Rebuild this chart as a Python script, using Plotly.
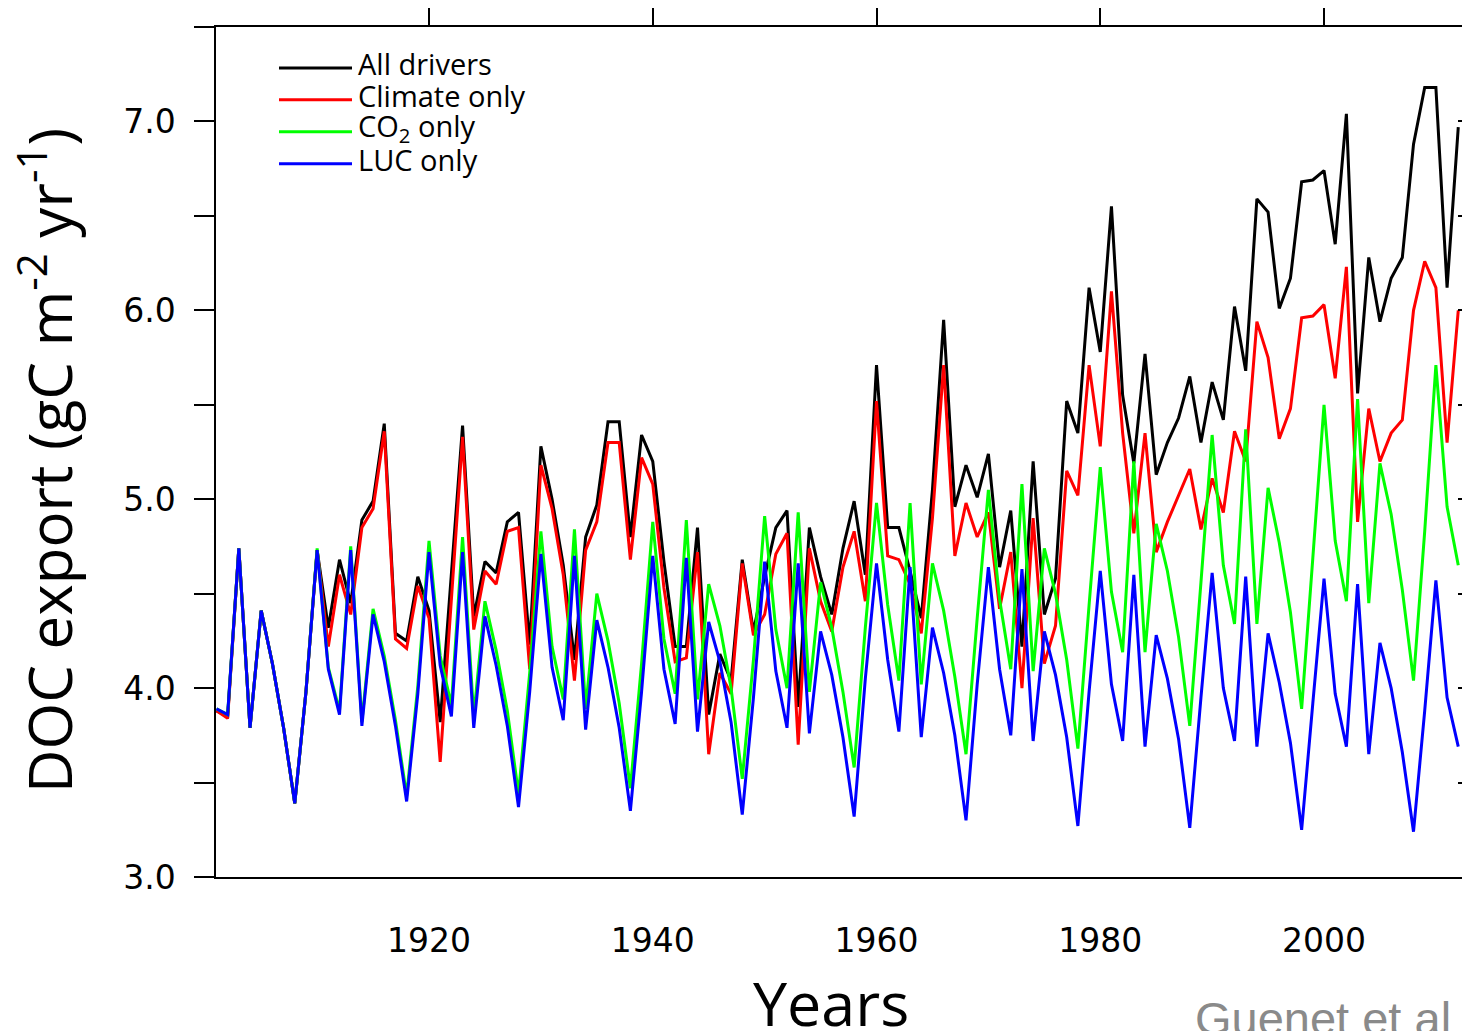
import plotly.graph_objects as go

years = list(range(1901, 2013))

luc_only = [
    3.89, 3.86, 4.74, 3.79, 4.41, 4.13, 3.79, 3.39, 3.98, 4.73,
    4.10, 3.86, 4.73, 3.80, 4.39, 4.14, 3.80, 3.40, 3.97, 4.72,
    4.12, 3.85, 4.72, 3.79, 4.38, 4.12, 3.80, 3.37, 3.98, 4.71,
    4.11, 3.83, 4.70, 3.78, 4.36, 4.11, 3.79, 3.35, 3.98, 4.70,
    4.10, 3.81, 4.69, 3.77, 4.35, 4.14, 3.82, 3.33, 3.95, 4.67,
    4.09, 3.79, 4.66, 3.76, 4.30, 4.07, 3.74, 3.32, 4.05, 4.66,
    4.15, 3.77, 4.64, 3.74, 4.32, 4.08, 3.75, 3.30, 4.02, 4.64,
    4.10, 3.75, 4.63, 3.72, 4.30, 4.07, 3.74, 3.27, 3.98, 4.62,
    4.02, 3.72, 4.60, 3.69, 4.28, 4.05, 3.73, 3.26, 3.95, 4.61,
    4.00, 3.72, 4.59, 3.69, 4.29, 4.03, 3.71, 3.25, 3.92, 4.58,
    3.97, 3.69, 4.55, 3.65, 4.24, 4.00, 3.66, 3.24, 3.88, 4.57,
    3.95, 3.69,
]

co2_only = [
    3.89, 3.86, 4.74, 3.79, 4.41, 4.13, 3.79, 3.39, 3.98, 4.74,
    4.11, 3.88, 4.75, 3.82, 4.42, 4.17, 3.83, 3.43, 4.01, 4.78,
    4.17, 3.91, 4.80, 3.85, 4.46, 4.20, 3.88, 3.44, 4.08, 4.83,
    4.22, 3.94, 4.84, 3.89, 4.50, 4.25, 3.92, 3.47, 4.13, 4.88,
    4.26, 3.97, 4.89, 3.94, 4.55, 4.33, 4.00, 3.52, 4.15, 4.91,
    4.31, 4.00, 4.93, 3.98, 4.56, 4.32, 3.98, 3.58, 4.32, 4.98,
    4.44, 4.04, 4.98, 4.02, 4.66, 4.41, 4.06, 3.65, 4.37, 5.05,
    4.47, 4.10, 5.08, 4.09, 4.74, 4.50, 4.15, 3.68, 4.44, 5.17,
    4.51, 4.19, 5.20, 4.19, 4.87, 4.62, 4.27, 3.80, 4.56, 5.34,
    4.65, 4.34, 5.37, 4.34, 5.06, 4.77, 4.40, 3.89, 4.69, 5.50,
    4.78, 4.46, 5.53, 4.45, 5.19, 4.92, 4.52, 4.04, 4.83, 5.71,
    4.96, 4.65,
]

climate_only = [
    3.88, 3.84, 4.74, 3.79, 4.41, 4.13, 3.79, 3.39, 3.98, 4.73,
    4.22, 4.60, 4.39, 4.85, 4.95, 5.36, 4.26, 4.21, 4.54, 4.37,
    3.61, 4.50, 5.33, 4.31, 4.62, 4.55, 4.83, 4.85, 4.10, 5.18,
    4.95, 4.60, 4.04, 4.73, 4.88, 5.30, 5.30, 4.68, 5.22, 5.08,
    4.53, 4.14, 4.16, 4.72, 3.65, 4.08, 3.97, 4.66, 4.28, 4.39,
    4.71, 4.82, 3.70, 4.74, 4.46, 4.30, 4.64, 4.83, 4.46, 5.52,
    4.70, 4.68, 4.55, 4.29, 4.90, 5.71, 4.70, 4.98, 4.80, 4.93,
    4.42, 4.72, 4.00, 4.90, 4.13, 4.33, 5.15, 5.02, 5.71, 5.28,
    6.10, 5.35, 4.82, 5.35, 4.72, 4.88, 5.02, 5.16, 4.84, 5.11,
    4.93, 5.36, 5.20, 5.94, 5.75, 5.32, 5.48, 5.96, 5.97, 6.03,
    5.64, 6.23, 4.88, 5.48, 5.20, 5.35, 5.42, 6.00, 6.26, 6.12,
    5.30, 6.00,
]

all_drivers = [
    3.88, 3.85, 4.74, 3.79, 4.41, 4.13, 3.79, 3.39, 3.98, 4.73,
    4.32, 4.68, 4.45, 4.89, 4.99, 5.40, 4.29, 4.25, 4.59, 4.41,
    3.82, 4.60, 5.39, 4.38, 4.67, 4.61, 4.88, 4.93, 4.23, 5.28,
    5.00, 4.65, 4.15, 4.80, 4.97, 5.41, 5.41, 4.80, 5.34, 5.20,
    4.67, 4.22, 4.22, 4.85, 3.86, 4.18, 4.04, 4.68, 4.30, 4.59,
    4.85, 4.94, 3.90, 4.85, 4.59, 4.39, 4.74, 4.99, 4.60, 5.71,
    4.85, 4.85, 4.62, 4.37, 5.05, 5.95, 4.96, 5.18, 5.01, 5.24,
    4.64, 4.94, 4.22, 5.20, 4.39, 4.58, 5.52, 5.35, 6.12, 5.78,
    6.55, 5.55, 5.19, 5.77, 5.13, 5.30, 5.43, 5.65, 5.30, 5.62,
    5.42, 6.02, 5.68, 6.59, 6.52, 6.01, 6.17, 6.68, 6.69, 6.74,
    6.35, 7.04, 5.56, 6.28, 5.94, 6.17, 6.28, 6.88, 7.18, 7.18,
    6.12, 6.97,
]

series_names = ["All drivers", "Climate only", "CO<sub>2</sub> only", "LUC only"]
series_colors = ["#000000", "#ff0000", "#00ff00", "#0000ff"]
series_values = [all_drivers, climate_only, co2_only, luc_only]

x_ticks = [1920, 1940, 1960, 1980, 2000]
y_ticks = [3.0, 3.5, 4.0, 4.5, 5.0, 5.5, 6.0, 6.5, 7.0, 7.5]
y_ticktext = ["3.0", "", "4.0", "", "5.0", "", "6.0", "", "7.0", ""]

X_RANGE = [1900.96, 2012.87]
Y_RANGE = [3.0, 7.5]

fig = go.Figure()
for name, vals, col in zip(series_names, series_values, series_colors):
    fig.add_trace(go.Scatter(x=years, y=vals, mode="lines", name=name,
                             line=dict(color=col, width=3), showlegend=False))

# helper trace for the mirrored (top / right) axes
fig.add_trace(go.Scatter(x=[None], y=[None], xaxis="x2", yaxis="y2",
                         showlegend=False, hoverinfo="skip"))

tick_font = dict(family="DejaVu Sans", size=33, color="black")
fig.update_layout(
    width=1462, height=1023,
    margin=dict(l=208, r=2, t=17, b=154),
    paper_bgcolor="white", plot_bgcolor="white",
    xaxis=dict(range=X_RANGE, tickvals=x_ticks, ticks="", showline=True,
               linecolor="black", linewidth=1.5, showgrid=False, zeroline=False,
               tickfont=tick_font, ticklabelstandoff=34),
    xaxis2=dict(range=X_RANGE, overlaying="x", side="top", tickvals=x_ticks,
                ticks="outside", ticklen=17, tickwidth=1.5, tickcolor="black",
                showticklabels=False, showline=True, linecolor="black",
                linewidth=1.5, showgrid=False, zeroline=False),
    yaxis=dict(range=Y_RANGE, tickvals=y_ticks, ticktext=y_ticktext,
               ticks="outside", ticklen=20, tickwidth=1.5, tickcolor="black",
               showline=True, linecolor="black", linewidth=1.5,
               showgrid=False, zeroline=False, tickfont=tick_font,
               ticklabelstandoff=12),
    yaxis2=dict(range=Y_RANGE, overlaying="y", side="right",
                tickvals=y_ticks[1:-1], ticks="inside", ticklen=10,
                tickwidth=1.5, tickcolor="black", showticklabels=False,
                showline=True, linecolor="black", linewidth=1.5,
                showgrid=False, zeroline=False),
)

# legend drawn in the top-left corner of the plot area
W = 1252.0
H = 852.0
leg_y = [66, 98, 130, 162]
for name, col, yp in zip(series_names, series_colors, leg_y):
    yy = (877 - yp) / H
    fig.add_shape(type="line", xref="paper", yref="paper",
                  x0=(279 - 216) / W, x1=(352 - 216) / W, y0=yy, y1=yy,
                  line=dict(color=col, width=3))
    fig.add_annotation(xref="paper", yref="paper", x=(356 - 216) / W,
                       y=(877 - yp + 4) / H, text=name, showarrow=False,
                       xanchor="left", yanchor="middle",
                       font=dict(family="Open Sans", size=29, color="black"))

fig.add_annotation(xref="paper", yref="paper", x=(46 - 216) / W,
                   y=(877 - 460) / H,
                   text="DOC export (gC m<sup>-2</sup> yr<sup>-1</sup>)",
                   textangle=-90, showarrow=False, xanchor="center",
                   yanchor="middle",
                   font=dict(family="Open Sans", size=60, color="black"))

fig.add_annotation(xref="paper", yref="paper", x=(831 - 216) / W,
                   y=(877 - 1003) / H, text="Years", showarrow=False,
                   xanchor="center", yanchor="middle",
                   font=dict(family="Open Sans", size=61, color="black"))

fig.add_annotation(xref="paper", yref="paper", x=(1193 - 216) / W,
                   y=(877 - 990) / H, text="Guenet et al", showarrow=False,
                   xanchor="left", yanchor="top",
                   font=dict(family="Liberation Sans", size=47, color="#8a8a8a"))

fig.write_html("out.html")
